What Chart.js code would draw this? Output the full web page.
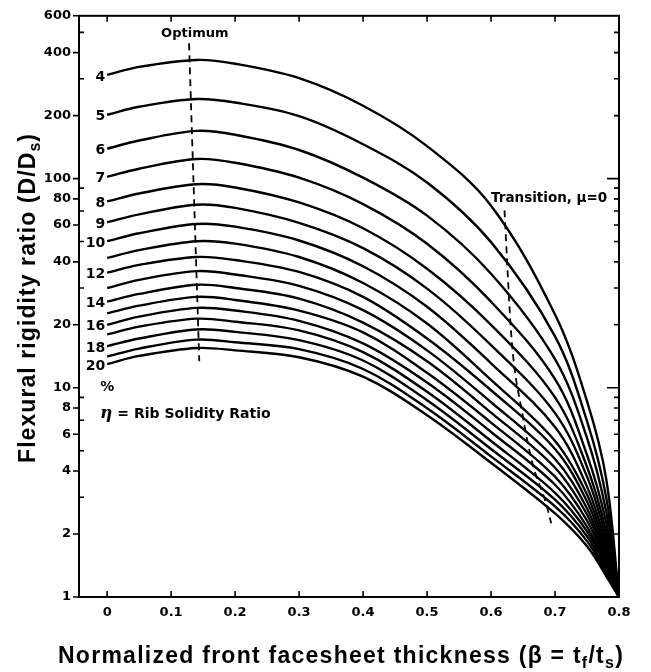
<!DOCTYPE html>
<html><head><meta charset="utf-8">
<script src="https://cdn.jsdelivr.net/npm/chart.js@4/dist/chart.umd.min.js"></script>
<style>html,body{margin:0;padding:0;background:#fff}#wrap{width:651px;height:672px;position:relative}</style>
</head><body><div id="wrap"><canvas id="c"></canvas></div>
<script>
// beta = t_f / t_s sample positions
const betaGrid = [0, 0.05, 0.14, 0.2, 0.3, 0.4, 0.5, 0.6, 0.7, 0.75, 0.78, 0.8];
// D/Ds for each rib solidity ratio eta (%)
const eta4  = [313, 342, 369, 354, 302, 223, 143, 74.2, 22.4, 8.63, 3.67, 1];
const eta5  = [202, 220.5, 240, 231, 199, 146, 95.8, 49.7, 17.6, 6.93, 2.99, 1];
const eta6  = [139, 152, 169, 162, 137, 101, 66.5, 35.1, 13.7, 5.76, 2.56, 1];
const eta7  = [102, 111.5, 124, 119, 101, 75.5, 48.8, 25.8, 11.0, 4.78, 2.27, 1];
const eta8  = [77.8, 84.9, 94.0, 90.7, 76.9, 57.9, 37.1, 20.0, 9.0, 4.19, 2.06, 1];
const eta9  = [61.8, 67.5, 75.0, 72.4, 61.4, 46.5, 29.8, 16.0, 7.57, 3.76, 1.91, 1];
const eta10 = [50.2, 54.8, 60.7, 58.9, 50.6, 38.1, 24.4, 13.1, 6.49, 3.37, 1.79, 1];
const eta11 = [41.7, 45.5, 50.2, 48.9, 42.2, 31.7, 20.3, 10.9, 5.57, 3.09, 1.69, 1];
const eta12 = [35.5, 38.7, 42.2, 40.8, 35.8, 27.2, 17.2, 9.73, 5.10, 2.86, 1.62, 1];
const eta13 = [30.0, 32.8, 36.1, 34.8, 30.7, 23.5, 15.1, 8.53, 4.57, 2.65, 1.55, 1];
const eta14 = [25.8, 28.1, 31.1, 30.0, 26.7, 20.5, 13.4, 7.61, 4.15, 2.48, 1.50, 1];
const eta15 = [22.7, 24.7, 27.2, 26.3, 23.4, 18.4, 11.8, 6.82, 3.76, 2.32, 1.45, 1];
const eta16 = [20.0, 21.9, 24.1, 23.4, 20.9, 16.3, 10.6, 6.15, 3.44, 2.17, 1.40, 1];
const eta17 = [18.0, 19.6, 21.4, 20.7, 18.8, 14.8, 9.57, 5.57, 3.15, 2.06, 1.37, 1];
const eta18 = [15.8, 17.2, 19.0, 18.5, 16.9, 13.5, 8.72, 5.10, 2.92, 1.95, 1.33, 1];
const eta19 = [14.1, 15.4, 17.0, 16.5, 15.3, 12.3, 7.99, 4.70, 2.71, 1.85, 1.29, 1];
const eta20 = [13.0, 14.2, 15.5, 15.1, 14.0, 11.3, 7.40, 4.38, 2.51, 1.75, 1.26, 1];
const etaValues = [4,5,6,7,8,9,10,11,12,13,14,15,16,17,18,19,20];
const etaSeries = [eta4,eta5,eta6,eta7,eta8,eta9,eta10,eta11,eta12,eta13,eta14,eta15,eta16,eta17,eta18,eta19,eta20];
const labeledEta = [4,5,6,7,8,9,10,12,14,16,18,20];
// dashed loci
const optimumBeta = [0.128, 0.144];
const optimumD = [443, 13.4];
const transitionBeta = [0.621, 0.632, 0.649, 0.665, 0.686, 0.694];
const transitionD = [70.5, 17.3, 7.5, 4.33, 2.8, 2.25];
// axes
const xTickValues = [0, 0.1, 0.2, 0.3, 0.4, 0.5, 0.6, 0.7, 0.8];
const xTickLabels = ['0', '0.1', '0.2', '0.3', '0.4', '0.5', '0.6', '0.7', '0.8'];
const yTickValues = [1,2,3,4,5,6,7,8,9,10,20,30,40,50,60,70,80,90,100,200,300,400,500,600];
const yTickLabels = [1,2,4,6,8,10,20,40,60,80,100,200,400,600];

const canvas = document.getElementById('c');
canvas.width = 651; canvas.height = 672;
canvas.style.width = '651px'; canvas.style.height = '672px';

const datasets = etaSeries.map((s, i) => ({
  label: 'η = ' + etaValues[i] + '%',
  data: s.map((v, j) => ({x: betaGrid[j], y: v})),
  borderColor: '#000', borderWidth: 2.4, pointRadius: 0,
  tension: 0.35, fill: false
}));
datasets.push({
  label: 'Optimum',
  data: optimumBeta.map((b, j) => ({x: b, y: optimumD[j]})),
  borderColor: '#000', borderWidth: 1.8, borderDash: [7, 5], pointRadius: 0, tension: 0
});
datasets.push({
  label: 'Transition, μ=0',
  data: transitionBeta.map((b, j) => ({x: b, y: transitionD[j]})),
  borderColor: '#000', borderWidth: 1.8, borderDash: [7, 5], pointRadius: 0,
  cubicInterpolationMode: 'monotone'
});

// draw a run of text pieces [text, size, dy] spread to a target width
function drawFitted(ctx, pieces, cx, y0, target, weight, family) {
  ctx.letterSpacing = '0px';
  let w = 0, n = 0;
  pieces.forEach(p => { ctx.font = weight + ' ' + p[1] + 'px ' + family; w += ctx.measureText(p[0]).width; n += p[0].length; });
  const sp = Math.max(0, (target - w) / n);
  ctx.letterSpacing = sp.toFixed(2) + 'px';
  let x = cx - target / 2;
  pieces.forEach(p => {
    ctx.font = weight + ' ' + p[1] + 'px ' + family;
    ctx.fillText(p[0], x, y0 + p[2]);
    x += ctx.measureText(p[0]).width;
  });
  ctx.letterSpacing = '0px';
}

const deco = {
  id: 'deco',
  afterDraw(chart) {
    const {ctx, chartArea: a, scales: {x, y}} = chart;
    ctx.save();
    ctx.strokeStyle = '#000'; ctx.fillStyle = '#000';
    ctx.lineWidth = 2;
    ctx.strokeRect(a.left, a.top, a.right - a.left, a.bottom - a.top);
    ctx.lineWidth = 1.6;
    ctx.beginPath();
    xTickValues.forEach(v => {
      const px = x.getPixelForValue(v);
      ctx.moveTo(px, a.bottom); ctx.lineTo(px, a.bottom - 6);
      ctx.moveTo(px, a.top); ctx.lineTo(px, a.top + 6);
    });
    yTickValues.forEach(v => {
      const py = y.getPixelForValue(v);
      const lab = yTickLabels.includes(v);
      if (lab) { ctx.moveTo(a.left - 6, py); ctx.lineTo(a.left, py); }
      else { ctx.moveTo(a.left, py); ctx.lineTo(a.left + 5, py); }
      if (v !== 1 && v !== 600) {
        const len = (v === 10 || v === 100) ? 12 : 5;
        ctx.moveTo(a.right, py); ctx.lineTo(a.right - len, py);
      }
    });
    ctx.stroke();

    // curve labels
    ctx.textBaseline = 'middle';
    ctx.textAlign = 'right';
    ctx.font = 'bold 14px "DejaVu Sans"';
    etaValues.forEach((e, i) => {
      if (!labeledEta.includes(e)) return;
      ctx.fillText(String(e), x.getPixelForValue(-0.003), y.getPixelForValue(etaSeries[i][0]) + 2);
    });
    ctx.textAlign = 'center';
    ctx.font = 'bold 14px "DejaVu Sans"';
    ctx.fillText('%', x.getPixelForValue(0), y.getPixelForValue(10));
    ctx.font = 'bold 13px "DejaVu Sans"';
    ctx.fillText('Optimum', x.getPixelForValue(0.137), y.getPixelForValue(495));
    ctx.textAlign = 'left';
    ctx.font = 'bold 13.5px "DejaVu Sans"';
    ctx.fillText('Transition, μ=0', x.getPixelForValue(0.600), y.getPixelForValue(80.5));
    // eta note
    const nx = x.getPixelForValue(-0.011), ny = y.getPixelForValue(7.5);
    ctx.font = 'italic bold 17px "DejaVu Serif"';
    ctx.fillText('η', nx, ny);
    const w = ctx.measureText('η').width;
    ctx.font = 'bold 14px "DejaVu Sans"';
    ctx.fillText(' = Rib Solidity Ratio', nx + w, ny);

    // axis titles
    ctx.textAlign = 'left';
    ctx.textBaseline = 'alphabetic';
    const F = '"Liberation Sans"';
    drawFitted(ctx, [
      ['Normalized front facesheet thickness (β = t', 23, 0],
      ['f', 16, 5],
      ['/t', 23, 0],
      ['s', 16, 5],
      [')', 23, 0]
    ], 341, 663, 566, 'bold', F);
    ctx.save();
    ctx.translate(35, 298);
    ctx.rotate(-Math.PI / 2);
    drawFitted(ctx, [
      ['Flexural rigidity ratio (D/D', 23, 0],
      ['s', 16, 5],
      [')', 23, 0]
    ], 0, 0, 330, 'bold', F);
    ctx.restore();
    ctx.restore();
  }
};

new Chart(canvas, {
  type: 'line',
  data: {datasets},
  options: {
    responsive: false, animation: false,
    layout: {padding: {left: 0, top: 15, right: 32, bottom: 0}},
    plugins: {legend: {display: false}, tooltip: {enabled: false}},
    scales: {
      x: {
        type: 'linear', min: -0.044, max: 0.8,
        afterBuildTicks: s => { s.ticks = xTickValues.map(v => ({value: v})); },
        afterFit: s => { s.height = 75; },
        grid: {display: false, drawTicks: false}, border: {display: false},
        ticks: {
          autoSkip: false, maxRotation: 0, padding: 8, color: '#000',
          font: {family: '"DejaVu Sans"', weight: 'bold', size: 13},
          callback: (v, i) => xTickLabels[i]
        }
      },
      y: {
        type: 'logarithmic', min: 1, max: 600,
        afterBuildTicks: s => { s.ticks = yTickValues.map(v => ({value: v})); },
        afterFit: s => { s.width = 79; },
        grid: {display: false, drawTicks: false}, border: {display: false},
        ticks: {
          autoSkip: false, padding: 8, color: '#000',
          font: {family: '"DejaVu Sans"', weight: 'bold', size: 13},
          callback: v => yTickLabels.includes(v) ? String(v) : ''
        }
      }
    }
  },
  plugins: [deco]
});
</script></body></html>
